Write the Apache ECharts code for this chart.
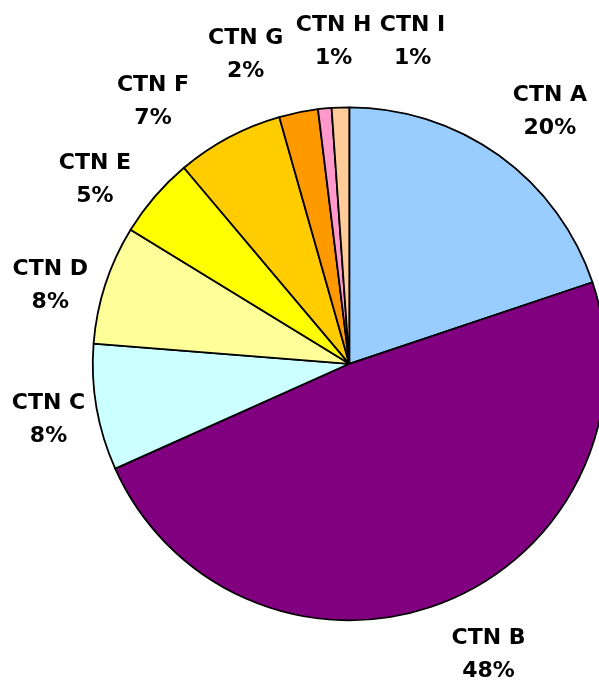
<!DOCTYPE html>
<html>
<head>
<meta charset="utf-8">
<script src="https://cdn.jsdelivr.net/npm/echarts@6/dist/echarts.min.js"></script>
<style>
html,body{margin:0;padding:0;background:#fff;}
#main{width:599px;height:684px;}
</style>
</head>
<body>
<div id="main"></div>
<script>
// Data
const categories = ['CTN A', 'CTN B', 'CTN C', 'CTN D', 'CTN E', 'CTN F', 'CTN G', 'CTN H', 'CTN I'];
const values = [19.85, 48.45, 7.95, 7.5, 5.1, 6.75, 2.45, 0.85, 1.1];
const colors = ['#99CCFF', '#800080', '#CCFFFF', '#FFFF99', '#FFFF00', '#FFCC00', '#FF9900', '#FF99CC', '#FFCC99'];

// Layout (label placement relative to each slice's mid-angle)
const labelShift = [2.8, -4.2, -0.8, -3.4, -4.8, -8.9, -7.1, 2.7, 13.1];
const labelDist = [322, 323, 306, 309, 314, 327, 326, 322, 328];
const CX = 349.3, CY = 363.8, R = 256.5;

const total = values.reduce((a, b) => a + b, 0);
const mids = [];
let acc = 0;
values.forEach(v => { mids.push((acc + v / 2) / total * 360); acc += v; });

const chart = echarts.init(document.getElementById('main'), null, { renderer: 'canvas' });
chart.setOption({
  animation: false,
  backgroundColor: '#ffffff',
  series: [{
    type: 'pie',
    center: [CX, CY],
    radius: R,
    startAngle: 90,
    clockwise: true,
    avoidLabelOverlap: false,
    emphasis: { disabled: true },
    data: categories.map((c, i) => ({ name: c, value: values[i], itemStyle: { color: colors[i] } })),
    itemStyle: { borderColor: '#000000', borderWidth: 1.8 },
    label: {
      show: true,
      position: 'inside',
      overflow: 'none',
      formatter: p => p.name + '\n' + Math.round(p.value / total * 100) + '%',
      color: '#000000',
      fontFamily: 'DejaVu Sans',
      fontWeight: 'bold',
      fontSize: 22,
      lineHeight: 33,
      align: 'center',
      verticalAlign: 'middle'
    },
    labelLine: { show: false },
    labelLayout: p => {
      const i = p.dataIndex;
      const a = (mids[i] + labelShift[i]) * Math.PI / 180;
      const d = labelDist[i];
      return { x: CX + d * Math.sin(a), y: CY - d * Math.cos(a), align: 'center', verticalAlign: 'middle' };
    }
  }]
});
</script>
</body>
</html>
